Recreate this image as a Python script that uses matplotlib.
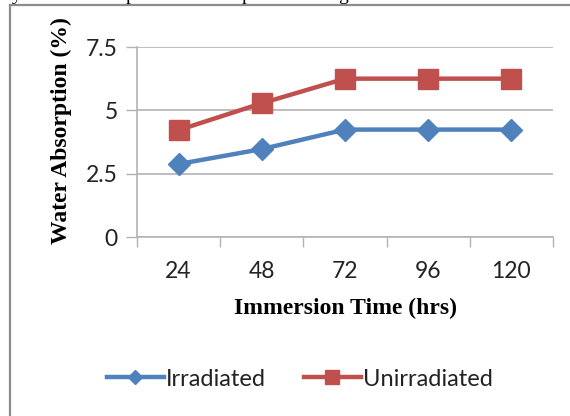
import matplotlib
matplotlib.use("Agg")
import matplotlib.pyplot as plt
from matplotlib.lines import Line2D

categories = ["24", "48", "72", "96", "120"]
irradiated = [2.88, 3.47, 4.24, 4.24, 4.24]
unirradiated = [4.22, 5.28, 6.25, 6.25, 6.25]
yticks = [0, 2.5, 5, 7.5]
ytick_labels = ["0", "2.5", "5", "7.5"]

W, H = 570, 416
fig = plt.figure(figsize=(W / 100, H / 100), dpi=100)

def px(x0, y0, x1, y1):
    return [x0 / W, 1 - y1 / H, (x1 - x0) / W, (y1 - y0) / H]

ax = fig.add_axes(px(137, 47, 553, 237))
blue = "#4F81BD"
red = "#C0504D"
grid = "#B3B3B3"
xs = list(range(len(categories)))
sans = ["Lato", "DejaVu Sans"]

ax.plot(xs, irradiated, color=blue, lw=3.2, marker="D", ms=11.5, mec=blue, mfc=blue, zorder=3)
ax.plot(xs, unirradiated, color=red, lw=3.2, marker="s", ms=15, mec=red, mfc=red, zorder=3)

ax.set_xlim(-0.5, len(categories) - 0.5)
ax.set_ylim(0, 7.5)
ax.set_yticks(yticks)
ax.set_yticklabels(ytick_labels)
ax.set_xticks([i - 0.5 for i in range(len(categories) + 1)])
ax.set_xticklabels([])
ax.set_xticks(xs, minor=True)
ax.set_xticklabels(categories, minor=True)
ax.tick_params(axis="x", which="major", direction="out", length=7, width=1, color=grid)
ax.tick_params(axis="x", which="minor", length=0, pad=17, labelsize=16.5, labelcolor="#222222")
ax.tick_params(axis="y", direction="out", length=8, width=1, color=grid, pad=6,
               labelsize=16.5, labelcolor="#222222")
for lab in ax.get_xticklabels(minor=True) + ax.get_yticklabels():
    lab.set_family(sans)

ax.grid(axis="y", color=grid, lw=1.2)
ax.set_axisbelow(True)
for s in ["top", "right"]:
    ax.spines[s].set_visible(False)
for s in ["left", "bottom"]:
    ax.spines[s].set_color(grid)
    ax.spines[s].set_linewidth(1.2)

fig.text(61 / W, 1 - 131 / H, "Water Absorption (%)", rotation=90, ha="center", va="center",
         family="Liberation Serif", weight="bold", fontsize=17, color="black")
fig.text(345 / W, 1 - 308 / H, "Immersion Time (hrs)", ha="center", va="center",
         family="Liberation Serif", weight="bold", fontsize=17, color="black")

handles = [
    Line2D([], [], color=blue, lw=3.2, marker="D", ms=7.5, mfc=blue, mec=blue),
    Line2D([], [], color=red, lw=3.2, marker="s", ms=10, mfc=red, mec=red),
]
leg = fig.legend(handles, ["Irradiated", "Unirradiated"], loc="center",
                 bbox_to_anchor=(300 / W, 1 - 379 / H), ncol=2, frameon=False,
                 handlelength=2.4, handletextpad=0.1, columnspacing=1.6,
                 prop={"family": sans, "size": 17})
for t in leg.get_texts():
    t.set_color("#222222")

# outer frame of the chart box
frame_color = "#8C8C8C"
fig.add_artist(Line2D([10 / W, 10 / W], [0, 1 - 4.5 / H], transform=fig.transFigure,
                      color=frame_color, lw=1.6))
fig.add_artist(Line2D([10 / W, 1], [1 - 4.5 / H, 1 - 4.5 / H], transform=fig.transFigure,
                      color=frame_color, lw=1.6))

# clipped descenders of the caption line above
for xp, ch in [(17, "y"), (130, "p"), (247, "p"), (343, "g")]:
    fig.text(xp / W, 1 + 0.5 / H, ch, ha="center", va="baseline",
             family="Liberation Serif", fontsize=14, color="black")

fig.savefig("out.png", dpi=100)
